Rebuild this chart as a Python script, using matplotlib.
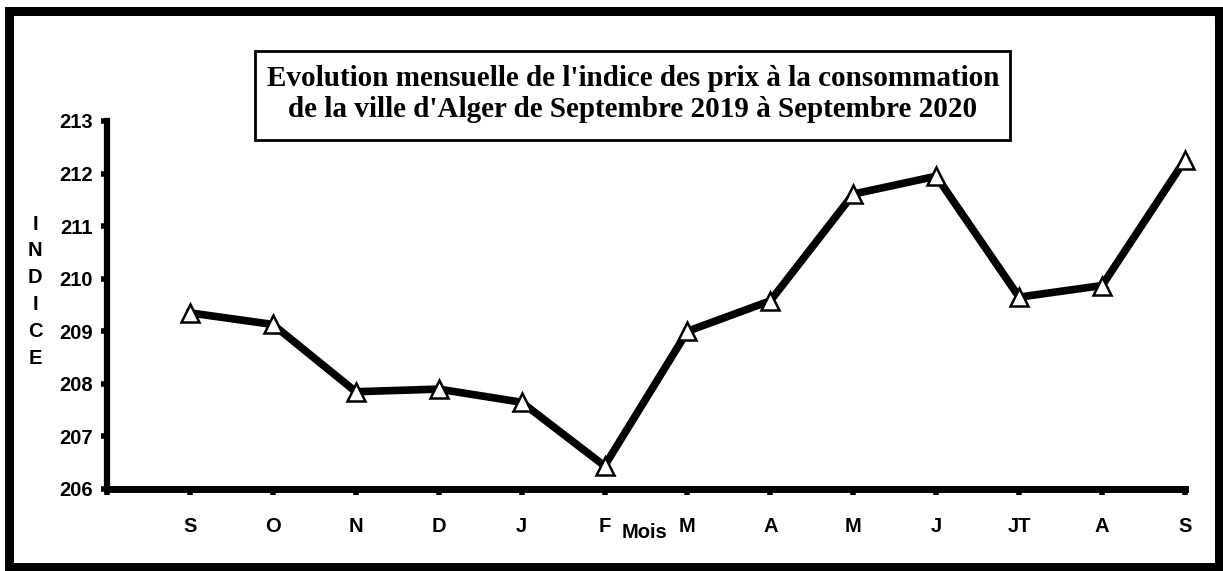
import matplotlib
matplotlib.use("Agg")
import matplotlib.pyplot as plt
from matplotlib.patches import Rectangle

months = ["S", "O", "N", "D", "J", "F", "M", "A", "M", "J", "JT", "A", "S"]
indice = [209.35, 209.13, 207.85, 207.90, 207.65, 206.44, 209.00, 209.58, 211.61, 211.95, 209.65, 209.87, 212.26]
yticks = [206, 207, 208, 209, 210, 211, 212, 213]
title_lines = ["Evolution mensuelle de l'indice des prix à la consommation",
               "de la ville d'Alger de Septembre 2019 à Septembre 2020"]

W, H = 1223, 571
fig = plt.figure(figsize=(W / 100, H / 100), dpi=100)
fig.patch.set_facecolor("white")

# outer border
fig.add_artist(Rectangle((8.5 / W, 1 - 567 / H), (1219 - 8.5) / W, (567 - 10.5) / H,
                         transform=fig.transFigure, fill=False, edgecolor="black",
                         linewidth=6.5, joinstyle="miter"))

ax = fig.add_axes([107 / W, 1 - 489 / H, (1185 - 107) / W, (489 - 121) / H])
x = list(range(len(months)))
ax.plot(x, indice, color="black", linewidth=5.5, marker="^", markersize=13.5,
        markerfacecolor="white", markeredgecolor="black", markeredgewidth=1.8,
        clip_on=False, zorder=5, solid_joinstyle="miter")
ax.set_xlim(-1, len(months) - 1)
ax.set_ylim(206, 213)
ax.set_yticks(yticks)
ax.set_yticklabels([str(v) for v in yticks])
ax.set_xticks(list(range(-1, len(months))))
ax.set_xticklabels([""] + months)
for s in ["top", "right"]:
    ax.spines[s].set_visible(False)
ax.spines["left"].set_linewidth(4.5)
ax.spines["bottom"].set_linewidth(5)
ax.tick_params(axis="both", direction="out", length=4, width=4, color="black")
ax.tick_params(axis="y", pad=6)
ax.tick_params(axis="x", pad=16)
for lab in ax.get_yticklabels() + ax.get_xticklabels():
    lab.set_fontfamily("Liberation Sans")
    lab.set_fontweight("bold")
    lab.set_fontsize(14.5)
ax.patch.set_alpha(0)

# vertical axis title
for i, ch in enumerate("INDICE"):
    fig.text(35 / W, 1 - (224 + i * 26.8) / H, ch, ha="center", va="center",
             fontfamily="Liberation Sans", fontweight="bold", fontsize=14.5)

fig.text(645 / W, 1 - 532 / H, "Mois", ha="center", va="center",
         fontfamily="Liberation Sans", fontweight="bold", fontsize=14.5)

# title box
fig.add_artist(Rectangle((255 / W, 1 - 140 / H), (1010 - 255) / W, (140 - 51) / H,
                         transform=fig.transFigure, facecolor="white", edgecolor="black",
                         linewidth=2, zorder=10))
fig.text(633 / W, 1 - 86 / H, title_lines[0], ha="center", va="baseline",
         fontfamily="Liberation Serif", fontweight="bold", fontsize=21, zorder=11)
fig.text(633 / W, 1 - 117 / H, title_lines[1], ha="center", va="baseline",
         fontfamily="Liberation Serif", fontweight="bold", fontsize=21, zorder=11)

fig.savefig("out.png", dpi=100)
